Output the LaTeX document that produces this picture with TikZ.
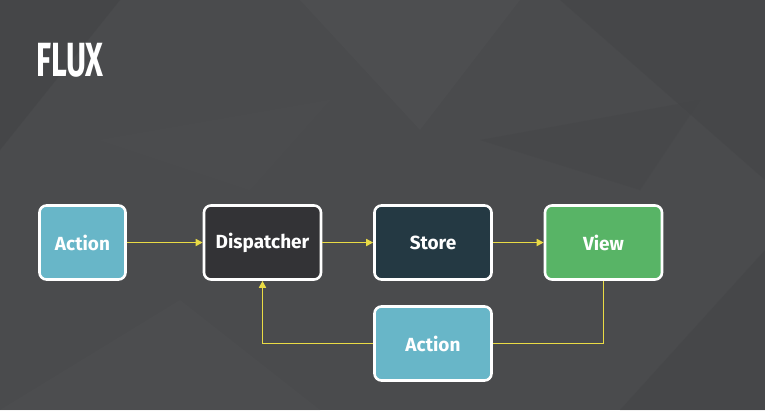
\documentclass[tikz,border=0pt]{standalone}
\usepackage{fontspec}
\setmainfont{Fira Sans}
\usetikzlibrary{arrows.meta}
\definecolor{bg}{HTML}{4A4B4D}
\definecolor{bgdark}{HTML}{444547}
\definecolor{bglight}{HTML}{505153}
\definecolor{actionc}{HTML}{68B6C8}
\definecolor{dispc}{HTML}{333336}
\definecolor{storec}{HTML}{243943}
\definecolor{viewc}{HTML}{58B466}
\definecolor{linec}{HTML}{EADB45}
\tikzset{
  x=1pt, y=-1pt,
  box/.style={draw=white, line width=2.6pt, rounded corners=7pt, minimum width=117pt, minimum height=74pt, inner sep=0pt, text=white, font=\fontsize{19}{22}\selectfont\bfseries},
  smallbox/.style={box, minimum width=86pt},
  flowline/.style={draw=linec, line width=1.6pt},
  flow/.style={flowline, -{Triangle[length=7pt,width=7pt]}},
}
\begin{document}
\begin{tikzpicture}
\useasboundingbox (0,0) rectangle (765,410);
\fill[bg] (0,0) rectangle (765,410);
% subtle background facets
\fill[bgdark,opacity=0.7] (0,150) -- (120,0) -- (0,0) -- cycle;
\fill[bglight,opacity=0.5] (300,0) -- (520,0) -- (420,130) -- cycle;
\fill[bgdark,opacity=0.5] (560,0) -- (765,0) -- (765,180) -- cycle;
\fill[bglight,opacity=0.4] (0,410) -- (180,300) -- (320,410) -- cycle;
\fill[bgdark,opacity=0.5] (620,410) -- (765,250) -- (765,410) -- cycle;
\fill[bglight,opacity=0.3] (100,140) -- (330,100) -- (250,190) -- cycle;
\fill[bgdark,opacity=0.4] (480,140) -- (700,100) -- (640,190) -- cycle;

\node[anchor=west, text=white, inner sep=0pt] (title) at (36,60)
  {\scalebox{0.64}[1]{\fontsize{48}{50}\selectfont\bfseries FLUX}};

\node[smallbox, fill=actionc] (a1) at (82.5,242.5) {Action};
\node[box, fill=dispc] (disp) at (262.5,242.5) {Dispatcher};
\node[box, fill=storec] (store) at (433,242.5) {Store};
\node[box, fill=viewc] (view) at (603.5,242.5) {View};
\node[box, fill=actionc] (a2) at (433,343.5) {Action};

\draw[flow] (a1) -- (disp);
\draw[flow] (disp) -- (store);
\draw[flow] (store) -- (view);
\draw[flowline] (view.south) |- (a2.east);
\draw[flow] (a2.west) -| (disp.south);
\end{tikzpicture}
\end{document}
